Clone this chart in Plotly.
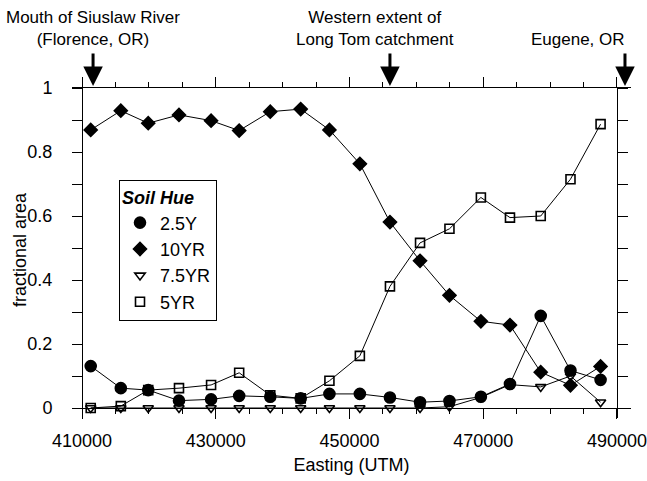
import plotly.graph_objects as go

# ---- data ----
easting = [411300, 415800, 419900, 424500, 429300, 433500, 438150, 442700, 447000,
           451550, 456050, 460550, 464950, 469650, 474000, 478600, 483050, 487550]
hue_2_5Y = [0.131, 0.062, 0.056, 0.023, 0.027, 0.038, 0.035, 0.030, 0.044,
            0.044, 0.033, 0.018, 0.022, 0.035, 0.075, 0.288, 0.117, 0.088]
hue_10YR = [0.869, 0.929, 0.890, 0.916, 0.898, 0.867, 0.926, 0.934, 0.869,
            0.763, 0.581, 0.460, 0.352, 0.271, 0.259, 0.112, 0.071, 0.130]
hue_7_5YR = [0.0, 0.0, 0.0, 0.0, 0.0, 0.0, 0.0, 0.0, 0.0,
             0.0, 0.0, 0.0, 0.004, 0.033, 0.073, 0.066, 0.100, 0.018]
hue_5YR = [0.0, 0.006, 0.056, 0.062, 0.072, 0.110, 0.040, 0.030, 0.085,
           0.163, 0.380, 0.516, 0.560, 0.658, 0.595, 0.600, 0.715, 0.887]

series_names = ["2.5Y", "10YR", "7.5YR", "5YR"]
series_values = [hue_2_5Y, hue_10YR, hue_7_5YR, hue_5YR]
series_symbols = ["circle", "diamond", "triangle-down-open", "square-open"]
series_sizes = [11, 10, 9, 9]

y_tickvals = [0, 0.1, 0.2, 0.3, 0.4, 0.5, 0.6, 0.7, 0.8, 0.9, 1.0]
y_ticktext = ["0", "", "0.2", "", "0.4", "", "0.6", "", "0.8", "", "1"]

landmarks_x = [411650, 456050, 491200]
landmark_labels = ["Mouth of Siuslaw River<br>(Florence, OR)",
                   "Western extent of<br>Long Tom catchment",
                   "Eugene, OR"]

FONT = "Liberation Sans, Arial, sans-serif"

fig = go.Figure()

for name, vals in zip(series_names, series_values):
    fig.add_trace(go.Scatter(x=easting, y=vals, mode="lines",
                             line=dict(color="black", width=1),
                             showlegend=False, hoverinfo="skip"))
for name, vals, sym, sz in zip(series_names, series_values, series_symbols, series_sizes):
    fig.add_trace(go.Scatter(x=easting, y=vals, mode="markers", name=name,
                             marker=dict(symbol=sym, size=sz, color="black",
                                         line=dict(color="black", width=1.6))))

# dummy traces for top / right axes
fig.add_trace(go.Scatter(x=[None], y=[None], xaxis="x2", yaxis="y", showlegend=False))
fig.add_trace(go.Scatter(x=[None], y=[None], xaxis="x", yaxis="y2", showlegend=False))

XR = [408500, 492100]
YR = [-0.03125, 1.0]

fig.update_layout(
    width=647, height=481,
    margin=dict(l=72, r=16, t=88, b=63),
    paper_bgcolor="white", plot_bgcolor="white",
    font=dict(family=FONT, size=17, color="black"),
    xaxis=dict(range=XR, anchor="free", position=10 / 330, automargin=False,
               showline=True, linecolor="black", linewidth=1,
               showgrid=False, zeroline=False,
               tickmode="linear", tick0=410000, dtick=20000, tickformat="d",
               ticks="outside", ticklen=10, tickcolor="black", tickwidth=1,
               ticklabelstandoff=6, tickfont=dict(size=18),
               minor=dict(tick0=410000, dtick=5000, ticks="outside", ticklen=5,
                          tickcolor="black", tickwidth=1, showgrid=False),
               title=dict(text="Easting (UTM)", standoff=8,
                          font=dict(size=18))),
    xaxis2=dict(range=XR, overlaying="x", side="top", anchor="y", automargin=False,
                showline=True, linecolor="black", linewidth=1,
                showgrid=False, zeroline=False, showticklabels=False,
                tickmode="linear", tick0=410000, dtick=20000,
                ticks="outside", ticklen=10, tickcolor="black",
                minor=dict(tick0=410000, dtick=5000, ticks="outside", ticklen=5,
                           tickcolor="black", showgrid=False)),
    yaxis=dict(range=YR, anchor="free", position=10 / 559, side="left", automargin=False,
               showline=True, linecolor="black", linewidth=1,
               showgrid=False, zeroline=False,
               tickmode="array", tickvals=y_tickvals, ticktext=y_ticktext,
               ticks="outside", ticklen=10, tickcolor="black",
               ticklabelstandoff=16, tickfont=dict(size=18)),
    yaxis2=dict(range=YR, overlaying="y", side="right", anchor="free", automargin=False,
                position=545 / 559,
                showline=True, linecolor="black", linewidth=1,
                showgrid=False, zeroline=False, showticklabels=False,
                tickmode="array", tickvals=y_tickvals,
                ticks="outside", ticklen=10, tickcolor="black"),
    legend=dict(x=(119 - 72) / 559, y=(418 - 180) / 330, xanchor="left", yanchor="top",
                bordercolor="black", borderwidth=1, bgcolor="white",
                font=dict(size=18, family=FONT),
                title=dict(text="<b><i>Soil Hue</i></b>", font=dict(size=18, family=FONT)),
                tracegroupgap=0, itemwidth=30),
)

# y-axis title placed as rotated text
fig.add_annotation(x=(20 - 72) / 559, y=(418 - 250) / 330, xref="paper", yref="paper",
                   text="fractional area", textangle=-90, showarrow=False,
                   xanchor="center", yanchor="middle", font=dict(size=18, family=FONT))

for xv in landmarks_x:
    fig.add_annotation(x=xv, y=1.006, xref="x", yref="paper", text="",
                       showarrow=True, ax=0, ay=-34, axref="pixel", ayref="pixel",
                       arrowhead=2, arrowsize=1.3, arrowwidth=3, arrowcolor="black")

text_pos = [(93, "center"), (375, "center"), (627, "right")]
for (px, anc), lab in zip(text_pos, landmark_labels):
    fig.add_annotation(x=(px - 72) / 559, y=(418 - 51) / 330, xref="paper", yref="paper",
                       text=lab, showarrow=False, xanchor=anc, yanchor="bottom",
                       align="center", font=dict(size=17, family=FONT))

fig.write_html("out.html", config={"displayModeBar": False},
               post_script="document.body.style.margin='0';")
